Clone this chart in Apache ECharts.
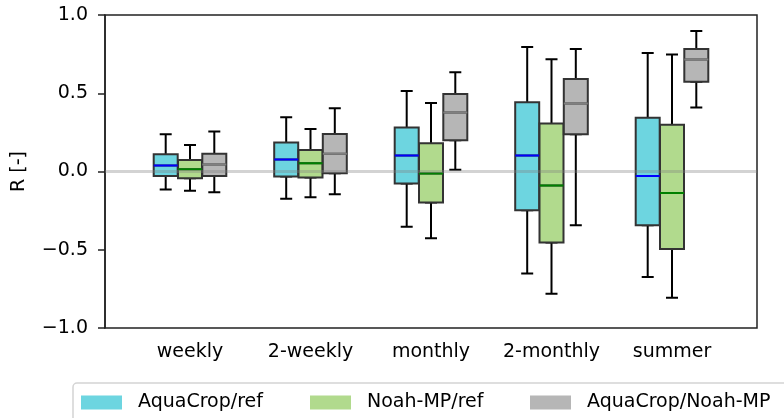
<!DOCTYPE html>
<html>
<head>
<meta charset="utf-8">
<script src="https://cdn.jsdelivr.net/npm/echarts@6/dist/echarts.min.js"></script>
<style>html,body{margin:0;padding:0;background:#fff}#c{width:784px;height:418px}</style>
</head>
<body>
<div id="c"></div>
<script>
// ---- data: [min, Q1, median, Q3, max] per category ----
const categories = ['weekly', '2-weekly', 'monthly', '2-monthly', 'summer'];
const yTicks = [-1.0, -0.5, 0.0, 0.5, 1.0];
const seriesNames = ['AquaCrop/ref', 'Noah-MP/ref', 'AquaCrop/Noah-MP'];
const aquaRef = [
  [-0.115, -0.028, 0.038, 0.111, 0.238],
  [-0.174, -0.032, 0.077, 0.185, 0.347],
  [-0.353, -0.077, 0.102, 0.281, 0.515],
  [-0.651, -0.247, 0.102, 0.443, 0.796],
  [-0.674, -0.343, -0.028, 0.343, 0.757]
];
const noahRef = [
  [-0.123, -0.043, 0.015, 0.074, 0.170],
  [-0.164, -0.038, 0.053, 0.138, 0.272],
  [-0.426, -0.198, -0.013, 0.181, 0.438],
  [-0.781, -0.453, -0.089, 0.306, 0.717],
  [-0.806, -0.496, -0.138, 0.298, 0.747]
];
const aquaNoah = [
  [-0.132, -0.028, 0.045, 0.113, 0.255],
  [-0.145, -0.011, 0.113, 0.240, 0.404],
  [0.011, 0.200, 0.377, 0.496, 0.634],
  [-0.343, 0.238, 0.434, 0.591, 0.783],
  [0.409, 0.574, 0.715, 0.783, 0.898]
];

// ---- styles ----
const groups = [aquaRef, noahRef, aquaNoah];
const fills = ['#6dd5e0', '#b1da8d', '#b6b6b6'];
const medianColors = ['#0000ff', '#008000', '#808080'];
const offsets = [-24.3, 0, 24.3];
const FONT = 'DejaVu Sans';
const TOP = 15, BOTTOM = 90;
const DATA_LEFT = 129.75, DATA_WIDTH = 602.5;

const grids = [{ left: 105, right: 27, top: TOP, bottom: BOTTOM, show: true, borderColor: '#222', borderWidth: 1.5, backgroundColor: 'transparent' }];
const xAxes = [{ gridIndex: 0, type: 'value', min: 0, max: 1, axisLine: { show: false }, axisTick: { show: false }, axisLabel: { show: false }, splitLine: { show: false } }];
const yAxes = [{
  gridIndex: 0, type: 'value', min: -1, max: 1, interval: 0.5,
  name: 'R [-]', nameLocation: 'middle', nameGap: 76, nameRotate: 90,
  nameTextStyle: { fontFamily: FONT, fontSize: 19, color: '#000' },
  axisLine: { show: true, lineStyle: { color: '#222', width: 1.5 } },
  axisTick: { show: true, length: 7, lineStyle: { color: '#222', width: 1.5 } },
  axisLabel: { margin: 17, fontFamily: FONT, fontSize: 19, color: '#000',
    formatter: v => v.toFixed(1).replace('-', '\u2212') },
  splitLine: { show: false }
}];
const series = [{
  type: 'line', xAxisIndex: 0, yAxisIndex: 0, data: [], silent: true,
  markLine: { silent: true, symbol: ['none', 'none'], label: { show: false }, z: 20,
    lineStyle: { color: 'rgba(128,128,128,0.35)', width: 3, type: 'solid' },
    data: [{ yAxis: 0 }] }
}];

const roles = ['whisker', 'box', 'median'];
groups.forEach((arr, g) => {
  roles.forEach((role, r) => {
    const gi = grids.length;
    grids.push({ left: DATA_LEFT + offsets[g], width: DATA_WIDTH, top: TOP, bottom: BOTTOM });
    const showAxis = (g === 1 && role === 'box');
    xAxes.push({
      gridIndex: gi, type: 'category', data: categories, boundaryGap: true,
      axisLine: { show: false },
      axisTick: { show: showAxis, interval: 0, alignWithLabel: true, length: 7, lineStyle: { color: '#222', width: 1.5 } },
      axisLabel: { show: showAxis, interval: 0, margin: 15, fontFamily: FONT, fontSize: 19, color: '#000' },
      splitLine: { show: false }
    });
    yAxes.push({ gridIndex: gi, type: 'value', min: -1, max: 1, show: false, splitLine: { show: false } });
    let data, style, width, name;
    if (role === 'whisker') {
      data = arr.map(d => [d[0], d[1], d[1], d[1], d[4]]);
      style = { color: 'transparent', borderColor: '#000', borderWidth: 2 };
      width = 12; name = 'whisker' + g;
    } else if (role === 'box') {
      data = arr.map(d => [d[1], d[1], d[2], d[3], d[3]]);
      style = { color: fills[g], borderColor: '#333', borderWidth: 2 };
      width = 24; name = seriesNames[g];
    } else {
      data = arr.map(d => [d[2], d[2], d[2], d[2], d[2]]);
      style = { color: 'transparent', borderColor: medianColors[g], borderWidth: 2 };
      width = 24; name = 'median' + g;
    }
    series.push({
      type: 'boxplot', name: name, xAxisIndex: gi, yAxisIndex: gi,
      boxWidth: [width, width], data: data, itemStyle: style, silent: true,
      emphasis: { disabled: true }, animation: false, z: 2 + r
    });
  });
});

const legendLefts = [81, 310, 530];
const legends = seriesNames.map((n, i) => ({
  data: [{ name: n, itemStyle: { color: fills[i], borderWidth: 0 } }],
  left: legendLefts[i], top: 393, padding: 0, orient: 'horizontal',
  icon: 'rect', itemWidth: 41, itemHeight: 14, selectedMode: false,
  itemStyle: { borderWidth: 0 },
  textStyle: { fontFamily: FONT, fontSize: 19, color: '#000', padding: [0, 0, 0, 11] }
}));

const chart = echarts.init(document.getElementById('c'), null, { renderer: 'canvas' });
chart.setOption({
  animation: false,
  backgroundColor: '#fff',
  grid: grids, xAxis: xAxes, yAxis: yAxes, series: series, legend: legends,
  graphic: [{ type: 'rect', z: 0, silent: true,
    shape: { x: 73, y: 383, width: 740, height: 60, r: 4 },
    style: { fill: 'none', stroke: '#d4d4d4', lineWidth: 1.5 } }]
});
</script>
</body>
</html>
